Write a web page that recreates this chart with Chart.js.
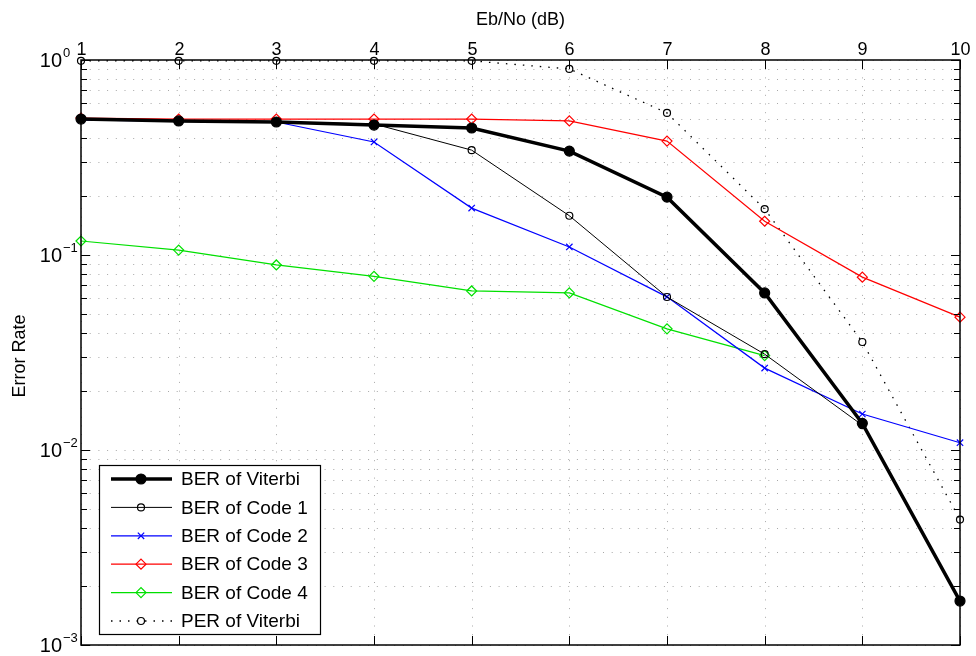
<!DOCTYPE html>
<html lang="en">

<head>
  <meta charset="UTF-8">
  <title>Error Rate vs Eb/No</title>
  <script src="https://cdn.jsdelivr.net/npm/chart.js"></script>
  <style>
    html, body { margin: 0; padding: 0; background: #fff; }
    .wrap { width: 976px; height: 656px; position: relative; }
  </style>
</head>

<body>
  <div class="wrap">
    <canvas id="berChart"></canvas>
  </div>

  <script>
    // Eb/No points (dB)
    const ebno = [1, 2, 3, 4, 5, 6, 7, 8, 9, 10];

    const berViterbi = [0.498, 0.487, 0.481, 0.464, 0.448, 0.341, 0.198, 0.0639, 0.0137, 0.00168];
    const berCode1 = [0.498, 0.487, 0.481, 0.470, 0.345, 0.159, 0.0609, 0.0310, 0.0134, null];
    const berCode2 = [0.492, 0.487, 0.481, 0.380, 0.174, 0.110, 0.0610, 0.0263, 0.0153, 0.0109];
    const berCode3 = [0.504, 0.498, 0.498, 0.498, 0.498, 0.487, 0.384, 0.149, 0.0770, 0.0480];
    const berCode4 = [0.118, 0.106, 0.0889, 0.0777, 0.0654, 0.0639, 0.0418, 0.0305, null, null];
    const perViterbi = [0.99, 0.99, 0.99, 0.99, 0.99, 0.90, 0.535, 0.172, 0.0358, 0.0044];

    const xTicks = [1, 2, 3, 4, 5, 6, 7, 8, 9, 10];
    const yDecades = [-3, -2, -1, 0];

    const FONT = '"Liberation Sans", Arial, Helvetica, sans-serif';

    function series(label, data, color, width, style, radius, dash) {
      return {
        label: label,
        data: data.map((v, i) => ({ x: ebno[i], y: v })),
        borderColor: color,
        borderWidth: width,
        borderDash: dash || [],
        pointStyle: style,
        pointRadius: radius,
        pointHoverRadius: radius,
        pointBorderColor: color,
        pointBackgroundColor: style === 'circle' && width > 2 ? color : 'rgba(0,0,0,0)',
        pointBorderWidth: 1.2,
        tension: 0,
        spanGaps: false,
        clip: false
      };
    }

    // every y value that gets a grid line / tick: 1..9 x 10^e
    function logTicks() {
      const t = [];
      yDecades.forEach(e => {
        for (let m = 1; m < 10; m++) {
          const v = m * Math.pow(10, e);
          if (v <= 1.0001) t.push({ value: v, major: m === 1 });
        }
      });
      return t;
    }

    // dotted grid behind the lines
    const gridPlugin = {
      id: 'dotGrid',
      beforeDatasetsDraw(chart) {
        const ctx = chart.ctx;
        const area = chart.chartArea;
        const xs = chart.scales.x;
        const ys = chart.scales.y;
        ctx.save();
        ctx.strokeStyle = '#a8a8a8';
        ctx.lineWidth = 1;
        ctx.setLineDash([1, 7.7]);
        xTicks.forEach(v => {
          const px = Math.round(xs.getPixelForValue(v)) + 0.5;
          ctx.beginPath();
          ctx.moveTo(px, area.top);
          ctx.lineTo(px, area.bottom);
          ctx.stroke();
        });
        logTicks().forEach(t => {
          const py = Math.round(ys.getPixelForValue(t.value)) + 0.5;
          ctx.beginPath();
          ctx.moveTo(area.left, py);
          ctx.lineTo(area.right, py);
          ctx.stroke();
        });
        ctx.restore();
      }
    };

    // frame, inward ticks, axis labels and the legend box
    const axesPlugin = {
      id: 'matAxes',
      afterDraw(chart) {
        const ctx = chart.ctx;
        const area = chart.chartArea;
        const xs = chart.scales.x;
        const ys = chart.scales.y;
        ctx.save();

        // box
        ctx.strokeStyle = '#000';
        ctx.lineWidth = 1.5;
        ctx.strokeRect(area.left, area.top, area.right - area.left, area.bottom - area.top);

        // x ticks top and bottom, inward
        ctx.lineWidth = 1;
        ctx.fillStyle = '#000';
        ctx.font = '18px ' + FONT;
        ctx.textAlign = 'center';
        ctx.textBaseline = 'alphabetic';
        xTicks.forEach(v => {
          const px = Math.round(xs.getPixelForValue(v)) + 0.5;
          ctx.beginPath();
          ctx.moveTo(px, area.top);
          ctx.lineTo(px, area.top + 9);
          ctx.moveTo(px, area.bottom);
          ctx.lineTo(px, area.bottom - 9);
          ctx.stroke();
          ctx.fillText(String(v), px, area.top - 5);
        });

        // y ticks left and right, inward
        logTicks().forEach(t => {
          const py = Math.round(ys.getPixelForValue(t.value)) + 0.5;
          const len = t.major ? 9 : 6;
          ctx.beginPath();
          ctx.moveTo(area.left, py);
          ctx.lineTo(area.left + len, py);
          ctx.moveTo(area.right, py);
          ctx.lineTo(area.right - len, py);
          ctx.stroke();
        });
        yDecades.forEach(e => {
          const py = ys.getPixelForValue(Math.pow(10, e));
          ctx.font = '20px ' + FONT;
          ctx.textAlign = 'right';
          ctx.fillText('10', area.left - 19, py + 7);
          ctx.font = '13px ' + FONT;
          ctx.textAlign = 'left';
          ctx.fillText(String(e).replace('-', '\u2212'), area.left - 18, py - 3);
        });

        // axis titles
        ctx.font = '18px ' + FONT;
        ctx.textAlign = 'center';
        ctx.fillText('Eb/No (dB)', (area.left + area.right) / 2, 25);
        ctx.save();
        ctx.translate(25, 356);
        ctx.rotate(-Math.PI / 2);
        ctx.fillText('Error Rate', 0, 0);
        ctx.restore();

        // legend
        const lx = 99, ly = 465, lw = 221, lh = 169;
        ctx.fillStyle = '#fff';
        ctx.fillRect(lx, ly, lw, lh);
        ctx.strokeStyle = '#000';
        ctx.lineWidth = 1.2;
        ctx.strokeRect(lx + 0.5, ly + 0.5, lw, lh);
        ctx.font = '19px ' + FONT;
        ctx.textAlign = 'left';
        ctx.textBaseline = 'middle';
        chart.data.datasets.forEach((ds, i) => {
          const y = ly + 14 + i * 28.4;
          ctx.save();
          ctx.strokeStyle = ds.borderColor;
          ctx.lineWidth = ds.borderWidth;
          ctx.setLineDash(ds.borderDash);
          ctx.beginPath();
          ctx.moveTo(111, y);
          ctx.lineTo(172, y);
          ctx.stroke();
          ctx.setLineDash([]);
          ctx.fillStyle = ds.pointBackgroundColor;
          ctx.strokeStyle = ds.pointBorderColor;
          ctx.lineWidth = ds.pointBorderWidth;
          Chart.helpers.drawPoint(ctx, {
            pointStyle: ds.pointStyle,
            radius: ds.pointRadius,
            borderWidth: ds.pointBorderWidth,
            rotation: 0
          }, 141, y);
          ctx.restore();
          ctx.fillStyle = '#000';
          ctx.fillText(ds.label, 181, y + 1);
        });

        ctx.restore();
      }
    };

    const chart = new Chart(document.getElementById('berChart'), {
      type: 'line',
      data: {
        datasets: [
          series('BER of Viterbi', berViterbi, '#000', 3.5, 'circle', 5),
          series('BER of Code 1', berCode1, '#000', 1, 'circle', 3.5),
          series('BER of Code 2', berCode2, '#0000ff', 1.2, 'crossRot', 4.5),
          series('BER of Code 3', berCode3, '#ff0000', 1.2, 'rectRot', 5),
          series('BER of Code 4', berCode4, '#00e000', 1.2, 'rectRot', 5),
          series('PER of Viterbi', perViterbi, '#000', 1.3, 'circle', 3.5, [1.5, 7])
        ]
      },
      options: {
        responsive: true,
        maintainAspectRatio: false,
        animation: { duration: 0 },
        events: [],
        layout: {
          padding: { left: 81, right: 16, top: 60, bottom: 11 }
        },
        scales: {
          x: {
            type: 'linear',
            position: 'top',
            min: 1,
            max: 10,
            border: { display: false },
            grid: { display: false, drawTicks: false },
            ticks: { display: false, stepSize: 1 },
            afterFit(scale) { scale.height = 0; }
          },
          y: {
            type: 'logarithmic',
            min: 0.001,
            max: 1,
            border: { display: false },
            grid: { display: false, drawTicks: false },
            ticks: { display: false },
            afterFit(scale) { scale.width = 0; }
          }
        },
        plugins: {
          legend: { display: false },
          tooltip: { enabled: false }
        }
      },
      plugins: [gridPlugin, axesPlugin]
    });
  </script>
</body>

</html>
